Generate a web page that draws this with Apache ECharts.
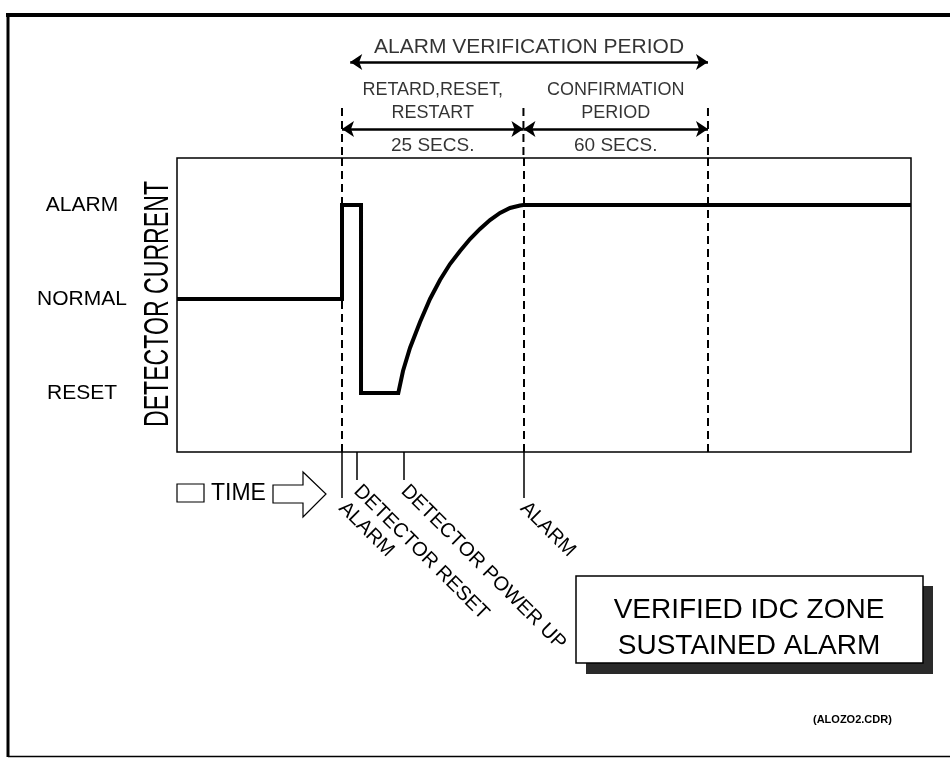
<!DOCTYPE html>
<html>
<head>
<meta charset="utf-8">
<script src="https://cdn.jsdelivr.net/npm/echarts@6/dist/echarts.min.js"></script>
<style>
  html, body { margin: 0; background: #fff; }
  #chart { width: 950px; height: 758px; }
</style>
</head>
<body>
<div id="chart"></div>
<script>
// Verified IDC zone, sustained alarm: detector current vs. time.
// Time is in arbitrary units, 0..100 across the plot.
const levelValues = [1, 2, 3];
const levelNames = ['RESET', 'NORMAL', 'ALARM'];

// detector current trace
const traceTime  = [0, 22.48, 22.48, 25.07, 25.07, 30.15, 30.79, 31.74, 33.11, 34.47, 35.83, 37.19, 38.56, 39.92, 41.28, 42.64, 44.01, 45.37, 46.73, 47.2, 100];
const traceLevel = [2, 2, 3, 3, 1, 1, 1.234, 1.479, 1.755, 2.0, 2.202, 2.372, 2.511, 2.638, 2.745, 2.84, 2.915, 2.968, 2.995, 3, 3];

// dashed phase boundaries: alarm, end of retard/reset/restart, end of confirmation
const phaseTimes = [22.48, 47.2, 72.34];
const spanArrow = [23.6, 72.34];

// events marked under the time axis
const eventTimes = [22.48, 24.52, 30.93, 47.2];
const eventNames = ['ALARM', 'DETECTOR RESET', 'DETECTOR POWER UP', 'ALARM'];
const alarmEvents = [22.48, 47.2];
const detectorEvents = [24.52, 30.93];

const periodTitle = 'ALARM VERIFICATION PERIOD';
const phaseLabels = [['RETARD,RESET,', 'RESTART'], ['CONFIRMATION', 'PERIOD']];
const phaseDurations = ['25 SECS.', '60 SECS.'];

const BLACK = '#000';
const SANS = "'Liberation Sans', Arial, sans-serif";

// rows of the annotation strip above the plot (pixels from the top)
const ROW = { title: 47, span: 62, phase1: 90, phase2: 113, arrow: 129, secs: 146, dashTop: 108, bottom: 158 };

const chart = echarts.init(document.getElementById('chart'));

function eventAxis(times, tickLen, margin) {
  return {
    gridIndex: 0, type: 'value', min: 0, max: 100, position: 'bottom',
    axisLine: { show: false },
    splitLine: { show: false },
    axisTick: { show: true, customValues: times, length: tickLen, lineStyle: { color: BLACK, width: 1.5 } },
    axisLabel: {
      customValues: times, rotate: -45, margin, fontSize: 20, fontFamily: SANS, color: BLACK,
      formatter: (v) => eventNames[eventTimes.indexOf(v)],
    },
  };
}

function textPoint(name, x, y, size) {
  return { name, value: [x, y], label: { fontSize: size } };
}

const mid1 = (phaseTimes[0] + phaseTimes[1]) / 2;
const mid2 = (phaseTimes[1] + phaseTimes[2]) / 2;
const spanMid = (spanArrow[0] + spanArrow[1]) / 2;

const option = {
  animation: false,
  backgroundColor: '#fff',
  grid: [
    { left: 177, right: 39, top: 158, bottom: 306, show: true, borderColor: BLACK, borderWidth: 1.5, backgroundColor: 'transparent' },
    { left: 177, right: 39, top: 0, height: 158 },
  ],
  xAxis: [
    { gridIndex: 0, type: 'value', min: 0, max: 100, show: false },
    eventAxis(alarmEvents, 46, 53),
    eventAxis(detectorEvents, 28, 36),
    { gridIndex: 1, type: 'value', min: 0, max: 100, show: false },
  ],
  yAxis: [
    {
      gridIndex: 0, type: 'value', min: 0.372, max: 3.5,
      axisLine: { show: false }, axisTick: { show: false }, splitLine: { show: false },
      axisLabel: {
        customValues: levelValues, align: 'center', margin: 95,
        fontSize: 21, fontFamily: SANS, color: BLACK,
        formatter: (v) => levelNames[levelValues.indexOf(v)],
      },
    },
    { gridIndex: 1, type: 'value', min: 0, max: ROW.bottom, inverse: true, show: false },
  ],
  series: [
    {
      type: 'line', xAxisIndex: 0, yAxisIndex: 0, z: 5,
      data: traceTime.map((t, i) => [t, traceLevel[i]]),
      showSymbol: false, symbol: 'none',
      lineStyle: { color: BLACK, width: 4, join: 'miter', cap: 'butt' },
      markLine: {
        silent: true, symbol: 'none', label: { show: false },
        lineStyle: { color: BLACK, width: 2, type: [8, 5] },
        data: phaseTimes.map((t) => ({ xAxis: t })),
      },
    },
    ...phaseTimes.map((t) => ({
      type: 'line', xAxisIndex: 3, yAxisIndex: 1, symbol: 'none',
      data: [[t, ROW.dashTop], [t, ROW.bottom]],
      lineStyle: { color: BLACK, width: 2, type: [8, 5] },
    })),
    {
      type: 'lines', coordinateSystem: 'cartesian2d', xAxisIndex: 3, yAxisIndex: 1,
      symbol: ['arrow', 'arrow'], symbolSize: 12,
      lineStyle: { color: BLACK, width: 2.5, opacity: 1, curveness: 0 },
      data: [
        { coords: [[spanArrow[0], ROW.span], [spanArrow[1], ROW.span]] },
        { coords: [[phaseTimes[0], ROW.arrow], [phaseTimes[1], ROW.arrow]] },
        { coords: [[phaseTimes[1], ROW.arrow], [phaseTimes[2], ROW.arrow]] },
      ],
    },
    {
      type: 'scatter', xAxisIndex: 3, yAxisIndex: 1, symbolSize: 0.001,
      itemStyle: { color: 'transparent' },
      label: { show: true, position: 'inside', formatter: '{b}', color: BLACK, fontFamily: SANS },
      data: [
        textPoint(periodTitle, spanMid, ROW.title, 21),
        textPoint(phaseLabels[0][0], mid1, ROW.phase1, 18),
        textPoint(phaseLabels[0][1], mid1, ROW.phase2, 18),
        textPoint(phaseLabels[1][0], mid2, ROW.phase1, 18),
        textPoint(phaseLabels[1][1], mid2, ROW.phase2, 18),
        textPoint(phaseDurations[0], mid1, ROW.secs, 19),
        textPoint(phaseDurations[1], mid2, ROW.secs, 19),
      ],
    },
  ],
  graphic: [
    // outer frame
    { type: 'line', shape: { x1: 6, y1: 15, x2: 950, y2: 15 }, style: { stroke: BLACK, lineWidth: 4 } },
    { type: 'line', shape: { x1: 8, y1: 13, x2: 8, y2: 757 }, style: { stroke: BLACK, lineWidth: 3 } },
    { type: 'line', shape: { x1: 8, y1: 756.5, x2: 950, y2: 756.5 }, style: { stroke: BLACK, lineWidth: 1.5 } },
    // y-axis title, condensed
    {
      type: 'text', x: 158, y: 304, rotation: Math.PI / 2, scaleX: 0.66,
      style: { text: 'DETECTOR CURRENT', font: '35px ' + SANS, fill: BLACK, align: 'center', verticalAlign: 'middle' },
    },
    // "TIME" legend with open arrow
    { type: 'rect', shape: { x: 177, y: 484, width: 27, height: 18 }, style: { fill: 'none', stroke: BLACK, lineWidth: 1.2 } },
    { type: 'text', x: 211, y: 494, style: { text: 'TIME', font: '23px ' + SANS, fill: BLACK, verticalAlign: 'middle' } },
    {
      type: 'polygon',
      shape: { points: [[273, 485], [303, 485], [303, 472], [326, 494], [303, 517], [303, 503], [273, 503]] },
      style: { fill: '#fff', stroke: BLACK, lineWidth: 1.2 },
    },
    // caption box with drop shadow
    { type: 'rect', shape: { x: 586, y: 586, width: 347, height: 88 }, style: { fill: '#2a2a2a' } },
    { type: 'rect', shape: { x: 576, y: 576, width: 347, height: 87 }, style: { fill: '#fff', stroke: BLACK, lineWidth: 1.5 } },
    { type: 'text', x: 749, y: 610, style: { text: 'VERIFIED IDC ZONE', font: '28px ' + SANS, fill: BLACK, align: 'center', verticalAlign: 'middle' } },
    { type: 'text', x: 749, y: 646, style: { text: 'SUSTAINED ALARM', font: '28px ' + SANS, fill: BLACK, align: 'center', verticalAlign: 'middle' } },
    { type: 'text', x: 813, y: 720, style: { text: '(ALOZO2.CDR)', font: 'bold 11px ' + SANS, fill: BLACK, verticalAlign: 'middle' } },
  ],
};

chart.setOption(option);
</script>
</body>
</html>
